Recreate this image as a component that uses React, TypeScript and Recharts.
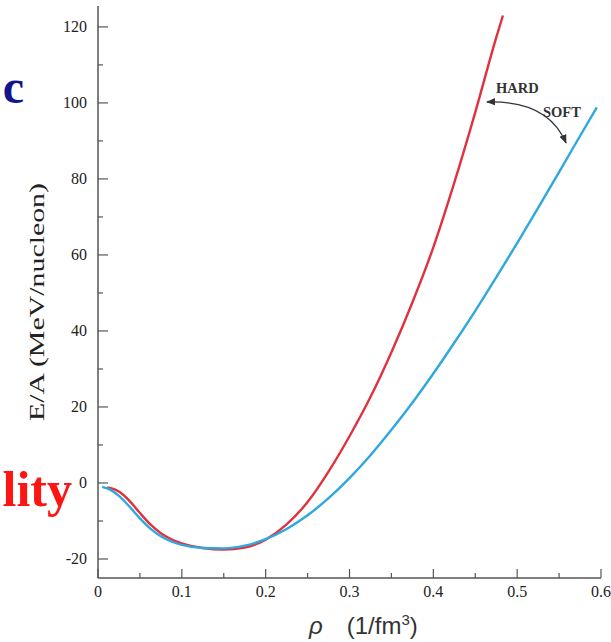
import React from "react";
import { LineChart, Line, XAxis, YAxis } from "recharts";

const hardRho = [0.011, 0.02, 0.03, 0.04, 0.05, 0.0625, 0.075, 0.0875, 0.1, 0.125, 0.15, 0.175, 0.2, 0.225, 0.25, 0.275, 0.3, 0.325, 0.35, 0.375, 0.4, 0.425, 0.45, 0.475, 0.483];
const hardE = [-1.2, -1.7, -3.1, -5.3, -7.9, -10.9, -13.2, -14.8, -15.9, -17.1, -17.5, -17.0, -14.9, -10.9, -5.0, 3.0, 12.3, 22.6, 34.4, 47.5, 62.0, 79.0, 97.5, 117.2, 123.0];

const softRho = [0.005, 0.015, 0.025, 0.0375, 0.05, 0.0625, 0.075, 0.0875, 0.1, 0.125, 0.15, 0.175, 0.2, 0.225, 0.25, 0.275, 0.3, 0.325, 0.35, 0.375, 0.4, 0.425, 0.45, 0.475, 0.5, 0.525, 0.55, 0.575, 0.595];
const softE = [-1.0, -1.8, -3.4, -6.2, -9.3, -12.0, -14.0, -15.4, -16.3, -17.1, -17.2, -16.5, -14.8, -12.1, -8.5, -4.0, 1.3, 7.3, 14.0, 21.1, 28.8, 36.9, 45.3, 54.1, 63.1, 72.4, 81.8, 91.3, 98.8];

const xTicks = [0, 0.05, 0.1, 0.15, 0.2, 0.25, 0.3, 0.35, 0.4, 0.45, 0.5, 0.55, 0.6];
const yTicks = [-20, -10, 0, 10, 20, 30, 40, 50, 60, 70, 80, 90, 100, 110, 120];

const hardData = hardRho.map((r, i) => ({ rho: r, e: hardE[i] }));
const softData = softRho.map((r, i) => ({ rho: r, e: softE[i] }));

const AX = "#555";
const TICK_FONT = "'Liberation Serif', 'Times New Roman', serif";

const isMajorX = (v: number) => Math.abs(v * 10 - Math.round(v * 10)) < 1e-6;
const isMajorY = (v: number) => Math.abs(v % 20) < 1e-6;

const BottomTick = (p: any) => {
  const v = p.payload.value;
  const major = isMajorX(v);
  return (
    <g>
      <line x1={p.x} x2={p.x} y1={p.y} y2={p.y - (major ? 9 : 5)} stroke={AX} strokeWidth={1.2} />
      {major && (
        <text x={p.x} y={p.y + 19} textAnchor="middle" fontFamily={TICK_FONT} fontSize={16} fill="#222">
          {String(Math.round(v * 10) / 10)}
        </text>
      )}
    </g>
  );
};

const TopTick = (p: any) => {
  const v = p.payload.value;
  const major = isMajorX(v);
  return <line x1={p.x} x2={p.x} y1={p.y} y2={p.y + (major ? 8 : 5)} stroke={AX} strokeWidth={1.2} />;
};

const LeftTick = (p: any) => {
  const v = p.payload.value;
  const major = isMajorY(v);
  return (
    <g>
      <line x1={p.x} x2={p.x + (major ? 10 : 5)} y1={p.y} y2={p.y} stroke={AX} strokeWidth={1.2} />
      {major && (
        <text x={p.x - 11} y={p.y + 5.5} textAnchor="end" fontFamily={TICK_FONT} fontSize={16} fill="#222">
          {String(v)}
        </text>
      )}
    </g>
  );
};

const RightTick = (p: any) => {
  const v = p.payload.value;
  const major = isMajorY(v);
  return <line x1={p.x} x2={p.x - (major ? 9 : 5)} y1={p.y} y2={p.y} stroke={AX} strokeWidth={1.2} />;
};

export default function App() {
  return (
    <div style={{ position: "absolute", left: 0, top: 0, width: 611, height: 642, background: "#fff", overflow: "hidden" }}>
      <LineChart width={611} height={642} margin={{ top: 6, right: 10, left: 0, bottom: 0 }}>
        <XAxis
          xAxisId="b"
          type="number"
          dataKey="rho"
          domain={[0, 0.6]}
          ticks={xTicks}
          interval={0}
          allowDataOverflow
          height={64}
          tickSize={0}
          tickMargin={0}
          tickLine={false}
          axisLine={{ stroke: AX, strokeWidth: 1.5 }}
          tick={<BottomTick />}
        />
        <XAxis
          xAxisId="t"
          orientation="top"
          type="number"
          domain={[0, 0.6]}
          ticks={xTicks}
          interval={0}
          allowDataOverflow
          height={0}
          tickSize={0}
          tickMargin={0}
          tickLine={false}
          axisLine={{ stroke: AX, strokeWidth: 1.5 }}
          tick={<TopTick />}
        />
        <YAxis
          yAxisId="l"
          type="number"
          domain={[-25, 125.5]}
          ticks={yTicks}
          interval={0}
          allowDataOverflow
          width={98}
          tickSize={0}
          tickMargin={0}
          tickLine={false}
          axisLine={{ stroke: AX, strokeWidth: 1.5 }}
          tick={<LeftTick />}
        />
        <YAxis
          yAxisId="r"
          orientation="right"
          type="number"
          domain={[-25, 125.5]}
          ticks={yTicks}
          interval={0}
          allowDataOverflow
          width={0}
          tickSize={0}
          tickMargin={0}
          tickLine={false}
          axisLine={{ stroke: "#333", strokeWidth: 1.5 }}
          tick={<RightTick />}
        />
        <Line
          xAxisId="b"
          yAxisId="l"
          data={hardData}
          dataKey="e"
          type="monotone"
          stroke="#e0323e"
          strokeWidth={2.4}
          dot={false}
          isAnimationActive={false}
        />
        <Line
          xAxisId="b"
          yAxisId="l"
          data={softData}
          dataKey="e"
          type="monotone"
          stroke="#2ea8de"
          strokeWidth={2.4}
          dot={false}
          isAnimationActive={false}
        />
      </LineChart>
      <svg width={611} height={642} style={{ position: "absolute", left: 0, top: 0, pointerEvents: "none" }}>
        <defs>
          <marker id="ah" viewBox="0 0 10 10" refX="9" refY="5" markerWidth="7" markerHeight="7" orient="auto-start-reverse">
            <path d="M0,1 L10,5 L0,9 z" fill="#333" />
          </marker>
        </defs>
        <text x={24} y={103} textAnchor="end" fontFamily={TICK_FONT} fontWeight="bold" fontSize={48} fill="#14148c">c</text>
        <text x={72} y={506} textAnchor="end" fontFamily={TICK_FONT} fontWeight="bold" fontSize={50} fill="#ff1414">lity</text>
        <text
          transform="translate(44,302) rotate(-90)"
          textAnchor="middle"
          fontFamily={TICK_FONT}
          fontSize={22}
          fill="#222"
          textLength={238}
          lengthAdjust="spacingAndGlyphs"
        >
          E/A (MeV/nucleon)
        </text>
        <text x={309} y={634} fontFamily="'Liberation Sans', Arial, sans-serif" fontSize={24} fill="#333">
          <tspan fontStyle="italic">ρ</tspan>
          <tspan dx={24}>(1/fm</tspan>
          <tspan dy={-9} fontSize={15}>3</tspan>
          <tspan dy={9}>)</tspan>
        </text>
        <text x={496} y={93} fontFamily={TICK_FONT} fontWeight="bold" fontSize={14.5} fill="#333">HARD</text>
        <text x={543} y={117} fontFamily={TICK_FONT} fontWeight="bold" fontSize={14.5} fill="#333">SOFT</text>
        <path
          d="M 487 102 Q 548 100 566 143"
          fill="none"
          stroke="#333"
          strokeWidth={1.3}
          markerStart="url(#ah)"
          markerEnd="url(#ah)"
        />
      </svg>
    </div>
  );
}
